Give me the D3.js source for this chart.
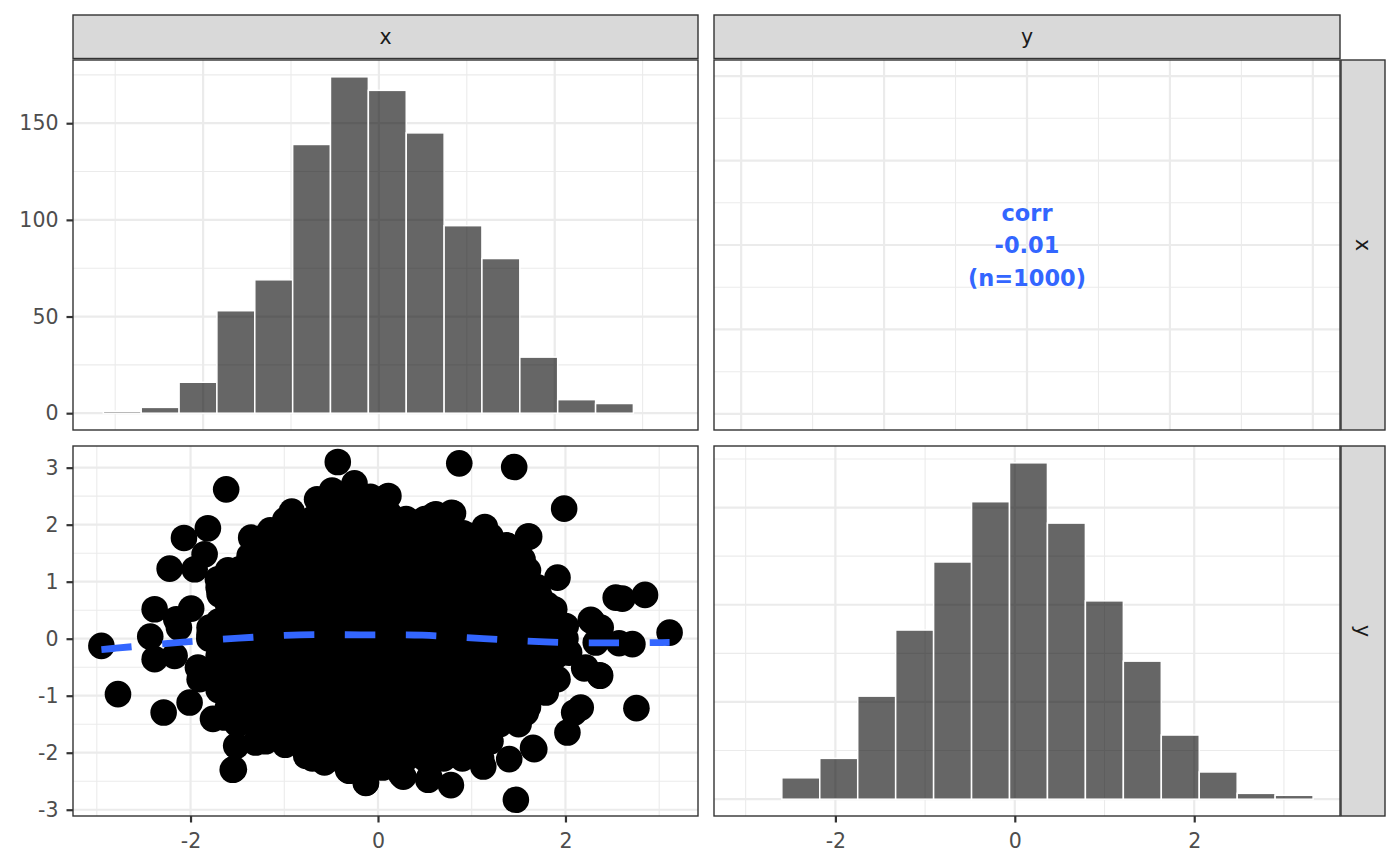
<!DOCTYPE html>
<html>
<head>
<meta charset="utf-8">
<script src="https://cdn.jsdelivr.net/npm/d3@7"></script>
<style>
  body { margin: 0; background: #ffffff; }
  svg { display: block; font-family: "DejaVu Sans", "Noto Sans", sans-serif; }
</style>
</head>
<body>
<svg id="chart" width="1400" height="866"></svg>
<script>
// ---------------- data ----------------
const variables = ["x", "y"];

// histogram of x (top-left diagonal panel)
const xHistBreaks = [-3.135, -2.704, -2.273, -1.843, -1.412, -0.981, -0.551, -0.120,
                     0.311, 0.742, 1.172, 1.603, 2.034, 2.465, 2.895, 3.326];
const xHistCounts = [1, 3, 16, 53, 69, 139, 174, 167, 145, 97, 80, 29, 7, 5, 0];

// histogram of y (bottom-right diagonal panel)
const yHistBreaks = [-3.020, -2.597, -2.174, -1.751, -1.328, -0.905, -0.482, -0.059,
                     0.364, 0.787, 1.210, 1.633, 2.056, 2.479, 2.902, 3.325];
const yHistCounts = [0, 11, 21, 53, 87, 122, 153, 173, 142, 102, 71, 33, 14, 3, 2];

// correlation text (top-right panel)
const corrLines = ["corr", "-0.01", "(n=1000)"];

// loess smooth in the scatter panel
const smoothX = [-2.951, -2.795, -2.145, -1.487, -0.834, -0.184, 0.473, 1.126, 1.782, 2.437, 3.02, 3.111];
const smoothY = [-0.19, -0.167, -0.068, 0.009, 0.067, 0.067, 0.061, 0.002, -0.056, -0.074, -0.068, -0.066];

// scatter: individually visible points around the cloud
const scatterOuter = [
  [-0.429,3.099],[-0.251,2.725],[-1.62,2.62],[-0.65,2.445],[-1.815,1.937],[-2.07,1.767],
  [-1.353,1.772],[-1.122,1.86],[-0.962,2.035],[-2.223,1.229],[-1.956,1.218],[-1.85,1.481],
  [-1.708,1.043],[-2.383,0.517],[-1.993,0.528],[-2.152,0.342],[-2.43,0.037],[-2.124,0.195],
  [-2.951,-0.126],[-2.383,-0.359],[-2.17,-0.301],[-1.797,0.079],[-2.774,-0.973],[-2.287,-1.295],
  [-2.01,-1.12],[-1.637,-1.383],[-1.477,-1.295],[-1.513,-1.879],[-1.306,-1.821],[-1.538,-2.288],
  [-0.767,-2.054],[-0.571,-2.171],[-0.128,-2.522],[-0.021,-2.23],[-0.305,-2.317],[-0.98,-1.704],
  [-1.921,-0.506],[-1.69,0.78],[-1.477,1.218],[-1.37,1.451],[-1.797,0.195],[-1.903,-0.71],
  [-1.761,-1.406],[-0.49,2.6],[-0.08,2.49],[0.1,2.49],[0.07,2.17],[-0.92,2.23],[-0.99,2.08],
  [-1.15,1.9],
  [0.867,3.076],[1.453,3.011],[1.986,2.281],[0.111,2.503],[0.121,2.182],[0.618,2.182],
  [0.785,2.21],[0.476,1.948],[1.14,1.96],[1.613,1.79],[1.382,1.627],[1.542,1.393],
  [1.915,1.071],[1.595,1.043],[1.72,0.75],[1.88,0.517],[2.003,0.224],[2.28,0.312],
  [2.376,0.195],[2.536,0.72],[2.607,0.703],[2.849,0.768],[3.111,0.107],[2.323,-0.068],
  [2.572,-0.079],[2.714,-0.096],[2.039,-0.244],[2.216,-0.507],[2.366,-0.64],[1.915,-0.71],
  [1.79,-0.945],[2.757,-1.218],[2.163,-1.208],[2.093,-1.295],[2.021,-1.646],[1.667,-1.937],
  [1.577,-1.295],[1.4,-2.112],[1.123,-2.242],[1.471,-2.826],[0.778,-2.568],[0.548,-2.435],
  [0.245,-2.375],[0.05,-2.259],[0.814,-1.937],[1.187,-1.791],[0.157,-1.791],[0.405,-1.821],
  [0.46,1.96],[0.8,2.2],[0.6,2.17],[0.91,1.85],[1.37,1.64],[1.6,1.79],
  [0.27,-2.42],[0.536,-2.475],[-0.13,-2.53],[-0.32,-2.3],[-0.7,-2.07],[-0.99,-1.86],
  [-1.55,-2.3],[1.654,-1.914],[2.2,-0.52],[2.37,-0.65],[2.27,0.33],[1.91,-0.2]
];

// scatter: the solid core of the cloud, row by row [y, [x values]]
const scatterCore = [
  [2.4,  [-0.6,-0.4,-0.2,0]],
  [2.1,  [-0.9,-0.7,-0.5,-0.3,-0.1,0.1,0.3,0.5,0.7]],
  [1.8,  [-1.2,-1,-0.8,-0.6,-0.4,-0.2,0,0.2,0.4,0.6,0.8,1,1.2]],
  [1.5,  [-1.3,-1.1,-0.9,-0.7,-0.5,-0.3,-0.1,0.1,0.3,0.5,0.7,0.9,1.1,1.3,1.5]],
  [1.2,  [-1.6,-1.4,-1.2,-1,-0.8,-0.6,-0.4,-0.2,0,0.2,0.4,0.6,0.8,1,1.2,1.4,1.6]],
  [0.9,  [-1.7,-1.5,-1.3,-1.1,-0.9,-0.7,-0.5,-0.3,-0.1,0.1,0.3,0.5,0.7,0.9,1.1,1.3,1.5,1.7]],
  [0.6,  [-1.6,-1.4,-1.2,-1,-0.8,-0.6,-0.4,-0.2,0,0.2,0.4,0.6,0.8,1,1.2,1.4,1.6,1.8]],
  [0.3,  [-1.7,-1.5,-1.3,-1.1,-0.9,-0.7,-0.5,-0.3,-0.1,0.1,0.3,0.5,0.7,0.9,1.1,1.3,1.5,1.7,1.9]],
  [0.0,  [-1.8,-1.6,-1.4,-1.2,-1,-0.8,-0.6,-0.4,-0.2,0,0.2,0.4,0.6,0.8,1,1.2,1.4,1.6,1.8,2]],
  [-0.3, [-1.7,-1.5,-1.3,-1.1,-0.9,-0.7,-0.5,-0.3,-0.1,0.1,0.3,0.5,0.7,0.9,1.1,1.3,1.5,1.7,1.9]],
  [-0.6, [-1.8,-1.6,-1.4,-1.2,-1,-0.8,-0.6,-0.4,-0.2,0,0.2,0.4,0.6,0.8,1,1.2,1.4,1.6,1.8]],
  [-0.9, [-1.7,-1.5,-1.3,-1.1,-0.9,-0.7,-0.5,-0.3,-0.1,0.1,0.3,0.5,0.7,0.9,1.1,1.3,1.5,1.7]],
  [-1.2, [-1.6,-1.4,-1.2,-1,-0.8,-0.6,-0.4,-0.2,0,0.2,0.4,0.6,0.8,1,1.2,1.4,1.6]],
  [-1.5, [-1.5,-1.3,-1.1,-0.9,-0.7,-0.5,-0.3,-0.1,0.1,0.3,0.5,0.7,0.9,1.1,1.3,1.5]],
  [-1.8, [-1.2,-1,-0.8,-0.6,-0.4,-0.2,0,0.2,0.4,0.6,0.8,1,1.2]],
  [-2.1, [-0.7,-0.5,-0.3,-0.1,0.1,0.3,0.5,0.7,0.9,1.1]]
];

// tick / grid values
const countMajor = [0, 50, 100, 150];
const countMinor = [25, 75, 125, 175];
const valMajorX = [-2, 0, 2];
const valMinorX = [-3, -1, 1, 3];
const scatMajorY = [-3, -2, -1, 0, 1, 2, 3];
const scatMinorY = [-2.5, -1.5, -0.5, 0.5, 1.5, 2.5];
const corrMajor = [-2, -1, 0, 1, 2];
const corrMinor = [-1.5, -0.5, 0.5, 1.5];

// ---------------- layout ----------------
const colRange = [[73, 698], [714, 1340]];
const rowRange = [[60, 430], [446, 816]];
const stripTop = [15, 58.5];
const stripRight = [1341, 1385];
const TEXT_SIZE = "20.5px";

const COL = {
  border: "#333333", grid: "#EBEBEB", strip: "#D9D9D9",
  axisText: "#4D4D4D", stripText: "#1A1A1A", blue: "#3366FF"
};

const svg = d3.select("#chart");

// scales
const xHistX = d3.scaleLinear().domain([-3.48, 3.63]).range(colRange[0]);
const xHistY = d3.scaleLinear().domain([-8.7, 182.7]).range([rowRange[0][1], rowRange[0][0]]);
const scatX  = d3.scaleLinear().domain([-3.254, 3.414]).range(colRange[0]);
const scatY  = d3.scaleLinear().domain([-3.11, 3.38]).range([rowRange[1][1], rowRange[1][0]]);
const corrX  = d3.scaleLinear().domain([-2.19, 2.19]).range(colRange[1]);
const corrY  = d3.scaleLinear().domain([-2.19, 2.19]).range([rowRange[0][1], rowRange[0][0]]);
const yHistX = d3.scaleLinear().domain([-3.353, 3.625]).range(colRange[1]);
const yHistY = d3.scaleLinear().domain([-8.65, 181.65]).range([rowRange[1][1], rowRange[1][0]]);

function panel(ci, ri, id) {
  const [x0, x1] = colRange[ci], [y0, y1] = rowRange[ri];
  svg.append("clipPath").attr("id", id)
    .append("rect").attr("x", x0).attr("y", y0).attr("width", x1 - x0).attr("height", y1 - y0);
  const g = svg.append("g");
  g.append("rect").attr("x", x0).attr("y", y0).attr("width", x1 - x0).attr("height", y1 - y0)
    .attr("fill", "#ffffff");
  return g;
}

function grid(g, xs, ys, xMaj, xMin, yMaj, yMin) {
  const [x0, x1] = xs.range(), [y1, y0] = ys.range();
  const gg = g.append("g");
  const draw = (vals, vertical, w) => {
    gg.selectAll(null).data(vals).enter().append("line")
      .attr("x1", d => vertical ? xs(d) : x0).attr("x2", d => vertical ? xs(d) : x1)
      .attr("y1", d => vertical ? y0 : ys(d)).attr("y2", d => vertical ? y1 : ys(d))
      .attr("stroke", COL.grid).attr("stroke-width", w);
  };
  draw(yMin, false, 1.1); draw(xMin, true, 1.1);
  draw(yMaj, false, 2.2); draw(xMaj, true, 2.2);
}

function border(ci, ri) {
  const [x0, x1] = colRange[ci], [y0, y1] = rowRange[ri];
  svg.append("rect").attr("x", x0).attr("y", y0).attr("width", x1 - x0).attr("height", y1 - y0)
    .attr("fill", "none").attr("stroke", COL.border).attr("stroke-width", 1.4);
}

function histogram(g, xs, ys, breaks, counts, clipId) {
  const bins = counts.map((c, i) => ({ x0: breaks[i], x1: breaks[i + 1], n: c }));
  g.append("g").attr("clip-path", `url(#${clipId})`)
    .selectAll("rect").data(bins).enter().append("rect")
    .attr("x", d => xs(d.x0)).attr("width", d => xs(d.x1) - xs(d.x0))
    .attr("y", d => ys(d.n)).attr("height", d => ys(0) - ys(d.n))
    .attr("fill", "#000000").attr("fill-opacity", 0.6)
    .attr("stroke", "#ffffff").attr("stroke-width", 1.5);
}

// ---- top-left: histogram of x
const gTL = panel(0, 0, "clipTL");
grid(gTL, xHistX, xHistY, valMajorX, valMinorX, countMajor, countMinor);
histogram(gTL, xHistX, xHistY, xHistBreaks, xHistCounts, "clipTL");
border(0, 0);

// ---- top-right: correlation text
const gTR = panel(1, 0, "clipTR");
grid(gTR, corrX, corrY, corrMajor, corrMinor, corrMajor, corrMinor);
gTR.append("g").selectAll("text").data(corrLines).enter().append("text")
  .attr("x", corrX(0))
  .attr("y", (d, i) => corrY(0) + 8.4 + (i - 1) * 32.5)
  .attr("text-anchor", "middle")
  .attr("font-size", "22.5px").attr("font-weight", "bold")
  .attr("fill", COL.blue)
  .text(d => d);
border(1, 0);

// ---- bottom-left: scatter
const gBL = panel(0, 1, "clipBL");
grid(gBL, scatX, scatY, valMajorX, valMinorX, scatMajorY, scatMinorY);
const allPoints = scatterOuter.concat(
  scatterCore.flatMap(([y, xsRow]) => xsRow.map(x => [x, y]))
);
const ptsG = gBL.append("g").attr("clip-path", "url(#clipBL)");
ptsG.selectAll("circle").data(allPoints).enter().append("circle")
  .attr("cx", d => scatX(d[0])).attr("cy", d => scatY(d[1])).attr("r", 13.3)
  .attr("fill", "#000000");
const smooth = smoothX.map((x, i) => [x, smoothY[i]]);
ptsG.append("path").datum(smooth)
  .attr("d", d3.line().x(d => scatX(d[0])).y(d => scatY(d[1])).curve(d3.curveCatmullRom))
  .attr("fill", "none").attr("stroke", COL.blue).attr("stroke-width", 6.8)
  .attr("stroke-dasharray", "30.5,30.5");
border(0, 1);

// ---- bottom-right: histogram of y
const gBR = panel(1, 1, "clipBR");
grid(gBR, yHistX, yHistY, valMajorX, valMinorX, countMajor, countMinor);
histogram(gBR, yHistX, yHistY, yHistBreaks, yHistCounts, "clipBR");
border(1, 1);

// ---------------- strips ----------------
variables.forEach((v, i) => {
  const [x0, x1] = colRange[i];
  svg.append("rect").attr("x", x0).attr("y", stripTop[0]).attr("width", x1 - x0)
    .attr("height", stripTop[1] - stripTop[0])
    .attr("fill", COL.strip).attr("stroke", COL.border).attr("stroke-width", 1.4);
  svg.append("text").attr("x", (x0 + x1) / 2).attr("y", 44)
    .attr("text-anchor", "middle").attr("font-size", TEXT_SIZE).attr("fill", COL.stripText)
    .text(v);
});
variables.forEach((v, i) => {
  const [y0, y1] = rowRange[i];
  svg.append("rect").attr("x", stripRight[0]).attr("y", y0)
    .attr("width", stripRight[1] - stripRight[0]).attr("height", y1 - y0)
    .attr("fill", COL.strip).attr("stroke", COL.border).attr("stroke-width", 1.4);
  const cx = (stripRight[0] + stripRight[1]) / 2, cy = (y0 + y1) / 2;
  svg.append("text")
    .attr("transform", `translate(${cx},${cy}) rotate(90)`)
    .attr("x", 0).attr("y", 6.6)
    .attr("text-anchor", "middle").attr("font-size", TEXT_SIZE).attr("fill", COL.stripText)
    .text(v);
});

// ---------------- axes ----------------
function styleAxis(g) {
  g.attr("font-size", TEXT_SIZE).attr("font-family", "\"DejaVu Sans\", sans-serif");
  g.select(".domain").remove();
  g.selectAll(".tick line").attr("stroke", COL.border).attr("stroke-width", 2.2);
  g.selectAll(".tick text").attr("fill", COL.axisText).attr("font-size", TEXT_SIZE);
}
const fmt = d => String(d);

svg.append("g").attr("transform", `translate(${colRange[0][0]},0)`)
  .call(d3.axisLeft(xHistY).tickValues(countMajor).tickFormat(fmt).tickSize(6.5).tickPadding(8))
  .call(styleAxis);
svg.append("g").attr("transform", `translate(${colRange[0][0]},0)`)
  .call(d3.axisLeft(scatY).tickValues(scatMajorY).tickFormat(fmt).tickSize(6.5).tickPadding(8))
  .call(styleAxis);
svg.append("g").attr("transform", `translate(0,${rowRange[1][1]})`)
  .call(d3.axisBottom(scatX).tickValues(valMajorX).tickFormat(fmt).tickSize(6.5).tickPadding(11.2))
  .call(styleAxis);
svg.append("g").attr("transform", `translate(0,${rowRange[1][1]})`)
  .call(d3.axisBottom(yHistX).tickValues(valMajorX).tickFormat(fmt).tickSize(6.5).tickPadding(11.2))
  .call(styleAxis);
</script>
</body>
</html>
